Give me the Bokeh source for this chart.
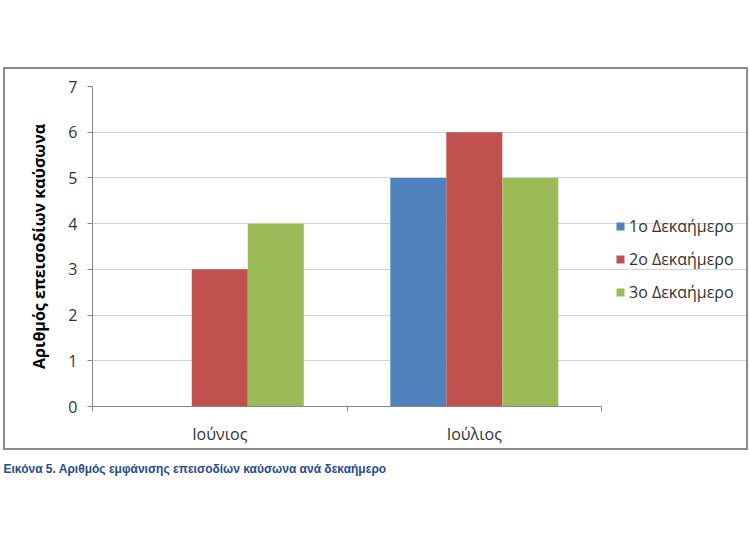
import numpy as np
from bokeh.plotting import figure
from bokeh.models import (ColumnDataSource, FixedTicker, Legend, LegendItem,
                          Label, Range1d, Spacer)
from bokeh.layouts import column, row
from bokeh.embed import file_html
from bokeh.resources import INLINE

# ---- data ----
months = ["Ιούνιος", "Ιούλιος"]
series_names = ["1ο Δεκαήμερο", "2ο Δεκαήμερο", "3ο Δεκαήμερο"]
dek1 = [0, 5]
dek2 = [3, 6]
dek3 = [4, 5]
colors = ["#4F81BD", "#C0504D", "#9BBB59"]
y_ticks = [0, 1, 2, 3, 4, 5, 6, 7]
y_title = "Αριθμός επεισοδίων καύσωνα"
caption = "Εικόνα 5. Αριθμός εμφάνισης επεισοδίων καύσωνα ανά δεκαήμερο"

FONT = "Open Sans"

# geometry (pixels) of the bordered chart box
BOX_W, BOX_H = 745, 383
MB_LEFT, MB_TOP, MB_BOTTOM = 87, 17, 46
INNER_W = BOX_W - 4
FRAME_W = INNER_W - MB_LEFT
PLOT_W = 506  # width of the bar area inside the frame
x_end = len(months) * FRAME_W / PLOT_W

p = figure(width=BOX_W, height=BOX_H, output_backend="svg", toolbar_location=None,
           x_range=Range1d(0, x_end), y_range=Range1d(0, 7),
           min_border_left=MB_LEFT, min_border_right=0,
           min_border_top=MB_TOP, min_border_bottom=MB_BOTTOM)
p.styles = {"border": "2px solid #8c8c8c"}
p.outline_line_color = None
p.background_fill_color = "white"
p.border_fill_color = "white"

bar_w = 0.22
centers = np.arange(len(months)) + 0.5
items = []
for i, (vals, c, name) in enumerate(zip([dek1, dek2, dek3], colors, series_names)):
    src = ColumnDataSource(dict(x=centers + (i - 1) * bar_w, top=vals))
    r = p.vbar(x="x", top="top", bottom=0, width=bar_w, source=src,
               fill_color=c, line_color=None)
    items.append(LegendItem(label=name, renderers=[r]))

# x axis
xa = p.xaxis[0]
xa.bounds = (0, len(months))
xa.ticker = FixedTicker(ticks=list(centers), minor_ticks=list(range(len(months) + 1)))
xa.major_label_overrides = {float(c): m for c, m in zip(centers, months)}
xa.major_tick_out = 0
xa.major_tick_in = 0
xa.minor_tick_out = 5
xa.minor_tick_in = 0
xa.minor_tick_line_color = "#868686"
xa.axis_line_color = "#868686"
xa.major_label_text_font = FONT
xa.major_label_text_font_size = "16px"
xa.major_label_text_color = "#333333"
xa.major_label_standoff = 11

# y axis
ya = p.yaxis[0]
ya.ticker = FixedTicker(ticks=y_ticks, minor_ticks=[])
ya.axis_line_color = "#868686"
ya.major_tick_line_color = "#868686"
ya.major_tick_out = 5
ya.major_tick_in = 0
ya.major_label_text_font = FONT
ya.major_label_text_font_size = "16px"
ya.major_label_text_color = "#333333"
ya.major_label_standoff = 10
ya.axis_label = y_title
ya.axis_label_text_font = FONT
ya.axis_label_text_font_style = "bold"
ya.axis_label_text_font_size = "16px"
ya.axis_label_text_color = "#000000"
ya.axis_label_standoff = 15

p.xgrid.grid_line_color = None
p.ygrid.grid_line_color = "#a6a6a6"
p.ygrid.grid_line_dash = "1 1"
p.ygrid.bounds = (0, len(months))

legend = Legend(items=items, location=(523, 103), orientation="vertical",
                glyph_width=10, glyph_height=10, label_height=20, spacing=11,
                padding=0, margin=0, label_standoff=4,
                label_text_font=FONT, label_text_font_size="16px",
                label_text_color="#333333", border_line_color=None,
                background_fill_alpha=0)
p.add_layout(legend, "center")

# caption figure
c = figure(width=750, height=40, output_backend="svg", toolbar_location=None,
           x_range=Range1d(0, 1), y_range=Range1d(0, 1),
           min_border_left=0, min_border_right=0, min_border_top=0,
           min_border_bottom=0)
c.axis.visible = False
c.grid.visible = False
c.outline_line_color = None
cap = Label(x=3, y=22, x_units="screen", y_units="screen",
            text=caption, text_font="Liberation Sans", text_font_style="bold",
            text_font_size="12px", text_color="#264C8A", text_baseline="middle")
c.add_layout(cap)

layout = column(Spacer(width=750, height=67),
                row(Spacer(width=3, height=10), p),
                c, spacing=0)

open("out.html", "w").write(file_html(layout, INLINE))
